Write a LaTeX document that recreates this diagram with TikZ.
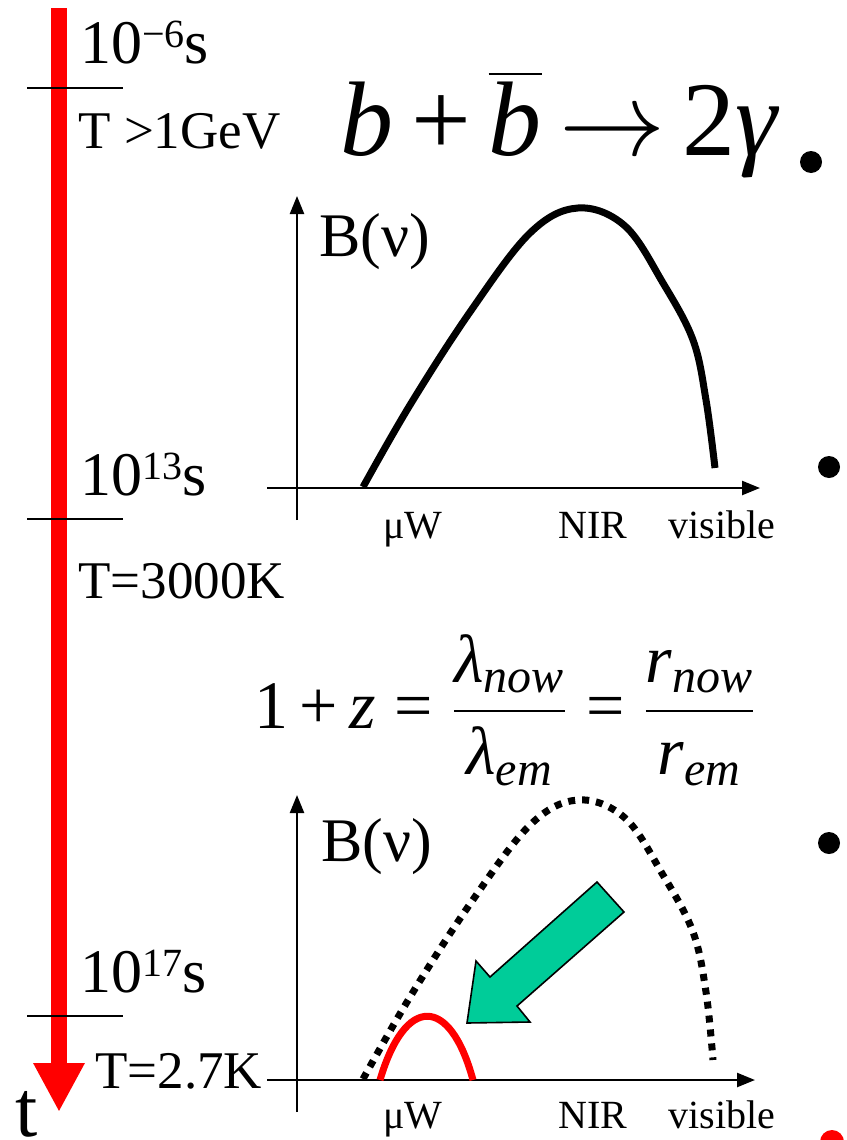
\RequirePackage{fix-cm}
\documentclass[tikz,border=0pt]{standalone}
\usepackage{amsmath}
\usepackage{fontspec}
\setmainfont{Liberation Serif}
\newfontfamily\timesit{Liberation Serif Italic}
\usetikzlibrary{arrows.meta}
\DeclareMathSizes{34}{34}{24}{17}
\DeclareMathSizes{53}{53}{37}{27}
\definecolor{timered}{RGB}{255,0,0}
\definecolor{shiftgreen}{RGB}{0,204,153}
\newcommand{\tpow}[1]{10\raisebox{0.25em}{\fontsize{20}{20}\selectfont #1}s}
\newcommand{\itx}[1]{\text{\timesit #1}}

\begin{document}
\begin{tikzpicture}[
    x=0.5pt, y=-0.5pt,
    timeline/.style={line width=8pt, color=timered,
                     -{Triangle[length=24.5pt, width=24pt]}},
    tickline/.style={line width=1.2pt},
    axis/.style={line width=1.2pt, -{Triangle[length=9pt, width=7pt]}},
    timelbl/.style={anchor=base west, inner sep=0pt, font=\fontsize{31}{31}\selectfont},
    templbl/.style={anchor=base west, inner sep=0pt, font=\fontsize{26.5}{27}\selectfont},
    bandlbl/.style={anchor=base west, inner sep=0pt, font=\fontsize{20}{20}\selectfont},
    ylbl/.style={anchor=base west, inner sep=0pt, font=\fontsize{31}{31}\selectfont},
    spectrum/.style={line width=3.5pt, line join=round},
    dotmark/.style={circle, fill=black, inner sep=0pt, minimum size=11pt}
  ]
    \useasboundingbox (0,0) rectangle (846,1140);

    % time axis
    \coordinate (tstart) at (59,8);
    \coordinate (tend)   at (59,1112);
    \draw[timeline] (tstart) -- (tend);
    \foreach \ty in {88,519,1016}
      \draw[tickline] (27,\ty) -- (123,\ty);
    \node[timelbl] (early) at (80,63)   {\tpow{−6}};
    \node[templbl] (tgev)  at (78,148)  {T >1GeV};
    \node[timelbl] (recomb) at (80,495) {\tpow{13}};
    \node[templbl] (t3000) at (78,598)  {T=3000K};
    \node[timelbl] (today) at (80,992)  {\tpow{17}};
    \node[templbl] (tcmb)  at (95,1088) {T=2.7K};
    \node[anchor=base west, inner sep=0pt, font=\fontsize{40}{40}\selectfont]
      (tvar) at (15,1136) {t};

    % annihilation
    \node[anchor=base west, inner sep=0pt, font=\fontsize{53}{53}\selectfont]
      (annih) at (340,155)
      {\itx{b}\,+\,$\overline{\itx{b}}$\,$\rightarrow$\,2\itx{γ}};
    \node[dotmark] (bul1) at (811,162) {};
    \node[dotmark] (bul2) at (829,467) {};
    \node[dotmark] (bul3) at (829,843) {};
    \node[dotmark, fill=timered, minimum size=12pt] (bul4) at (832,1142) {};

    % spectrum at emission
    \coordinate (o1) at (297,488);
    \draw[axis] (297,520) -- (297,196);
    \draw[axis] (267,488) -- (760,488);
    \node[ylbl] (b1) at (319,256) {B(ν)};
    \node[bandlbl] (mw1)  at (383,538) {μW};
    \node[bandlbl] (nir1) at (558,538) {NIR};
    \node[bandlbl] (vis1) at (668,538) {visible};
    \draw[spectrum] plot[smooth, tension=0.6] coordinates
      {(363,487) (410,405) (470,312) (530,233) (578,208) (625,226)
       (663,283) (693,340) (706,400) (715,468)};

    % redshift
    \node[font=\fontsize{34}{34}\selectfont, inner sep=0pt] (zform) at (505,710)
      {$\text{1}\,\text{+}\,\itx{z}\;\text{=}\;\dfrac{\itx{λ}_{\itx{now}}}{\itx{λ}_{\itx{em}}}
        \;\text{=}\;\dfrac{\itx{r}_{\itx{now}}}{\itx{r}_{\itx{em}}}$};

    % spectrum today
    \begin{scope}[shift={(0,592)}]
      \draw[axis] (297,520) -- (297,203);
      \draw[axis] (267,488) -- (755,488);
      \draw[spectrum, line cap=butt, dash pattern=on 3.5pt off 3.5pt] plot[smooth, tension=0.6] coordinates
        {(363,487) (410,405) (470,312) (530,233) (578,208) (625,226)
         (663,283) (693,340) (706,400) (713,468)};
      \node[bandlbl] (mw2)  at (383,536) {μW};
      \node[bandlbl] (nir2) at (558,536) {NIR};
      \node[bandlbl] (vis2) at (668,536) {visible};
    \end{scope}
    \node[ylbl] (b2) at (321,861) {B(ν)};
    \draw[spectrum, color=timered] (380,1080) .. controls (405,995) and (450,995) .. (473,1080);
    \filldraw[fill=shiftgreen, draw=black, line width=0.8pt]
      (597,882) -- (624,912) -- (517,1006) -- (530,1022) -- (467,1023)
      -- (476,961) -- (490,977) -- cycle;
  \end{tikzpicture}
\end{document}
